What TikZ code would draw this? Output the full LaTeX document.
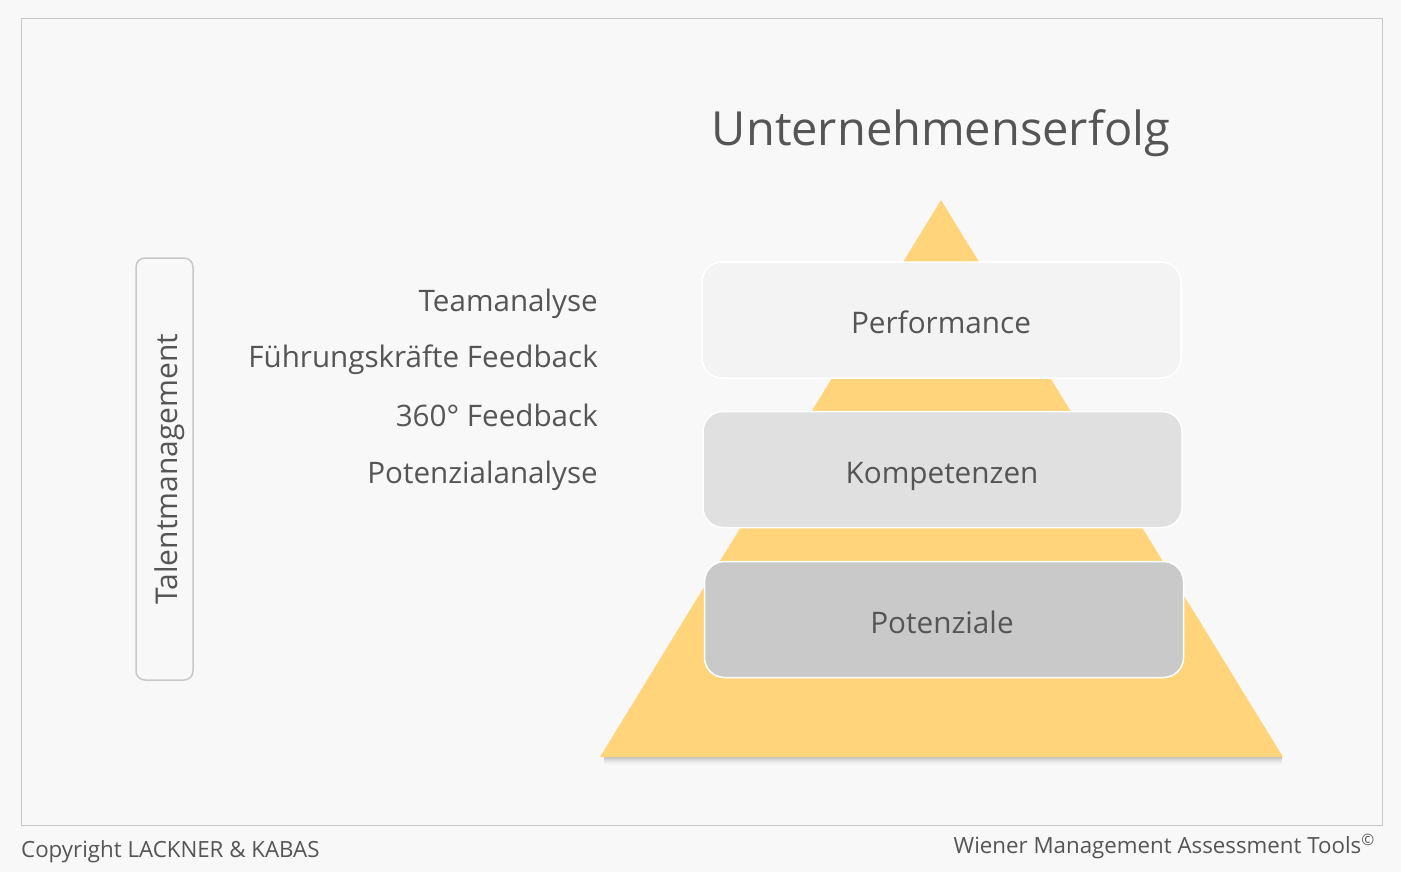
\documentclass[tikz,border=0pt]{standalone}
\usepackage{fontspec}
\setmainfont{Open Sans}
\usetikzlibrary{calc}
\definecolor{bg}{HTML}{F8F8F8}
\definecolor{frame}{HTML}{C8C8C8}
\definecolor{txt}{HTML}{555555}
\definecolor{pyr}{HTML}{FFD47A}
\definecolor{boxa}{HTML}{F3F3F3}
\definecolor{boxb}{HTML}{E0E0E0}
\definecolor{boxc}{HTML}{C9C9C9}
\tikzset{
  layerbox/.style={draw=white, line width=1.5pt, rounded corners=20pt, minimum width=479pt, minimum height=116pt},
  layertext/.style={anchor=base, text=txt, font=\fontsize{29.7}{36}\selectfont, inner sep=0pt},
  lefttext/.style={anchor=base east, text=txt, font=\fontsize{29.6}{36}\selectfont, inner sep=0pt},
  foot/.style={text=txt, font=\fontsize{22.3}{28}\selectfont, inner sep=0pt}
}
\begin{document}
\begin{tikzpicture}[x=1pt,y=-1pt]
\useasboundingbox (0,0) rectangle (1401,872);
\fill[bg] (0,0) rectangle (1401,872);
\draw[frame, line width=1pt] (21,19) rectangle (1382,825);
% pyramid shadow
\foreach \o/\a in {1/0.22,2/0.18,3/0.14,4/0.1,5/0.07,6/0.05,7/0.03,8/0.015}{
  \fill[black, opacity=\a] (604,757+\o-1) rectangle (1282,757+\o);
}
\coordinate (apex) at (941,200);
\coordinate (bl) at (600,757);
\coordinate (br) at (1283,757);
\fill[pyr] (apex) -- (br) -- (bl) -- cycle;
\node[anchor=base, inner sep=0pt, text=txt, font=\fontsize{47}{56}\selectfont] (title) at (941,146) {Unternehmenserfolg};
\node[layerbox, fill=boxa] (perf) at (941.5,320) {};
\node[layerbox, fill=boxb] (komp) at (942.5,469.5) {};
\node[layerbox, fill=boxc] (pot) at (944,619.5) {};
\node[layertext] (perfl) at (941,333) {Performance};
\node[layertext] (kompl) at (942,483) {Kompetenzen};
\node[layertext] (potl) at (942,633) {Potenziale};
\node[lefttext] (t1) at (598,311) {Teamanalyse};
\node[lefttext] (t2) at (598,367) {Führungskräfte Feedback};
\node[lefttext] (t3) at (598,426) {360° Feedback};
\node[lefttext] (t4) at (598,483) {Potenzialanalyse};
\draw[frame, line width=1.5pt, rounded corners=9pt] (136,258) rectangle (193,680);
\node[text=txt, rotate=90, anchor=base, inner sep=0pt, font=\fontsize{30}{36}\selectfont] (tm) at (177,469) {Talentmanagement};
\node[foot, anchor=base west] (copy) at (21,857) {Copyright LACKNER \& KABAS};
\node[foot, anchor=base east] (wm) at (1375,853) {Wiener Management Assessment Tools\textsuperscript{©}};
\end{tikzpicture}
\end{document}
